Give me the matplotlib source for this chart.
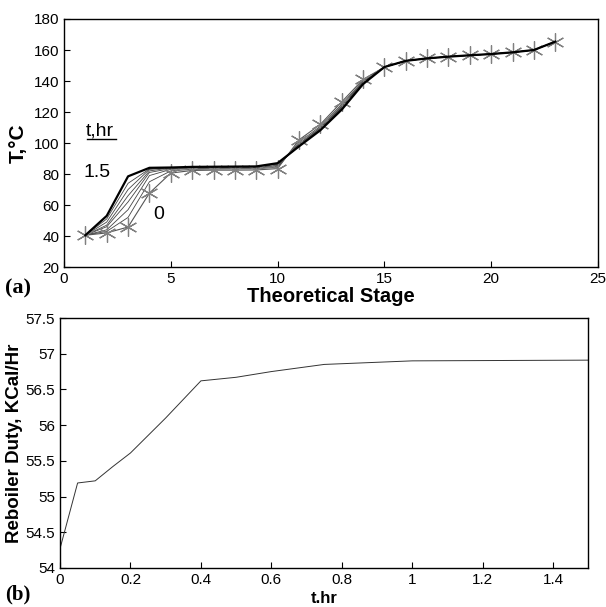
import matplotlib
matplotlib.use("Agg")
import matplotlib.pyplot as plt

plt.rcParams['font.family'] = ['Liberation Sans', 'DejaVu Sans']

stages = list(range(1, 24))
# Tail values (stages 15..23) shared by all profiles
tail = [149, 153, 154.6, 155.7, 156.6, 157.4, 158.5, 160, 165.4]
# Temperature profiles, t = 0 ... 1.5 hr (stages 1..14)
profiles_head = [
    [40.5, 42, 45.8, 67.7, 80.6, 82.3, 82.5, 82.5, 82.6, 83.5, 102, 112, 126.5, 141],
    [40.5, 43, 52, 75, 82, 83, 83.2, 83.3, 83.4, 84.3, 100.5, 110.8, 125, 140],
    [40.5, 44, 57, 79, 83, 83.5, 83.7, 83.8, 83.9, 85, 99.5, 110, 124, 139.5],
    [40.5, 46, 62, 81, 83.5, 84, 84.1, 84.2, 84.3, 85.5, 99, 109.5, 123.5, 139],
    [40.5, 47, 66, 82, 84, 84.2, 84.3, 84.4, 84.5, 86, 98.5, 109, 123, 138.7],
    [40.5, 49, 70, 83, 84, 84.4, 84.5, 84.6, 84.7, 86.2, 98.3, 108.7, 122.5, 138.5],
    [40.5, 51, 74, 83.3, 84, 84.5, 84.6, 84.7, 84.8, 86.5, 98, 108.5, 122, 138.3],
    [40.5, 53, 78.5, 84, 84.2, 84.6, 84.7, 84.8, 84.9, 87, 97.8, 108.2, 121.5, 138],
]

duty_t = [0, 0.05, 0.1, 0.15, 0.2, 0.3, 0.4, 0.5, 0.6, 0.75, 0.8, 1.0, 1.5]
duty_q = [54.27, 55.19, 55.22, 55.42, 55.61, 56.1, 56.62, 56.67, 56.75, 56.85, 56.86, 56.9, 56.91]

fig = plt.figure(figsize=(6.06, 6.07), dpi=100)
ax1 = fig.add_axes([0.1056, 0.5601, 0.8812, 0.4086])
ax2 = fig.add_axes([0.0990, 0.0643, 0.8720, 0.4118])

n = len(profiles_head)
for i, head in enumerate(profiles_head):
    T = head + tail
    if i == 0:
        ax1.plot(stages, T, color='#555555', lw=0.8, marker=(6, 2, 0),
                 markersize=13, markeredgecolor='#808080', markeredgewidth=0.9, zorder=3)
    elif i == n - 1:
        ax1.plot(stages, T, color='black', lw=1.6, zorder=4)
    else:
        ax1.plot(stages, T, color='#444444', lw=0.6, zorder=2)

ax1.set_xlim(0, 25)
ax1.set_ylim(20, 180)
ax1.set_xticks([0, 5, 10, 15, 20, 25])
ax1.set_yticks(range(20, 181, 20))
ax1.tick_params(direction='in', labelsize=11, length=4, width=0.8)
ax1.set_xlabel('Theoretical Stage', fontsize=14.5, fontweight='bold', labelpad=1)
ax1.set_ylabel('T,°C', fontsize=15, fontweight='bold', labelpad=4)
ax1.text(1.0, 105, 't,hr', fontsize=14, ha='left', va='baseline')
ax1.plot([0.044, 0.098], [0.516, 0.516], transform=ax1.transAxes, color='black', lw=1)
ax1.text(0.9, 78, '1.5', fontsize=14, ha='left', va='baseline')
ax1.text(4.2, 51, '0', fontsize=14, ha='left', va='baseline')

ax2.plot(duty_t, duty_q, color='#333333', lw=0.7)
ax2.set_xlim(0, 1.5)
ax2.set_ylim(54, 57.5)
ax2.set_xticks([0, 0.2, 0.4, 0.6, 0.8, 1.0, 1.2, 1.4])
ax2.set_xticklabels(['0', '0.2', '0.4', '0.6', '0.8', '1', '1.2', '1.4'])
ax2.set_yticks([54, 54.5, 55, 55.5, 56, 56.5, 57, 57.5])
ax2.set_yticklabels(['54', '54.5', '55', '55.5', '56', '56.5', '57', '57.5'])
ax2.tick_params(direction='in', labelsize=11, length=4, width=0.8)
ax2.set_xlabel('t.hr', fontsize=12, fontweight='bold', labelpad=3)
ax2.set_ylabel('Reboiler Duty, KCal/Hr', fontsize=13.5, fontweight='bold', labelpad=2)

for ax in (ax1, ax2):
    for s in ax.spines.values():
        s.set_linewidth(1.0)

fig.text(0.008, 0.517, '(a)', fontsize=16, fontweight='bold', family=['Liberation Serif'])
fig.text(0.008, 0.012, '(b)', fontsize=15, fontweight='bold', family=['Liberation Serif'])

fig.savefig('out.png', dpi=100)
